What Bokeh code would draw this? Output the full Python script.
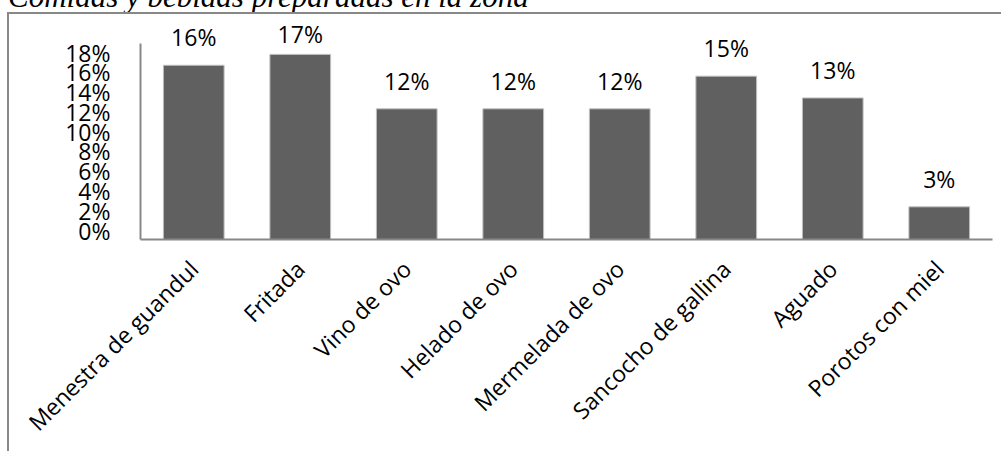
import math
from bokeh.plotting import figure
from bokeh.layouts import column
from bokeh.models import (ColumnDataSource, FactorRange, Range1d, LinearAxis, FixedTicker,
                          PrintfTickFormatter, LabelSet, Div)
from bokeh.core.properties import value
from bokeh.embed import file_html
from bokeh.resources import INLINE

# ---- data ----
categories = ["Menestra de guandul", "Fritada", "Vino de ovo", "Helado de ovo",
              "Mermelada de ovo", "Sancocho de gallina", "Aguado", "Porotos con miel"]
values = [16, 17, 12, 12, 12, 15, 13, 3]          # percent
y_ticks = [0, 2, 4, 6, 8, 10, 12, 14, 16, 18]
title_text = "Comidas y bebidas preparadas en la zona"

# ---- geometry (canvas pixels) ----
W, H = 994, 439
left, right, top, bottom = 131, 11, 0, 214
frame_w = W - left - right
frame_h = H - top - bottom
axis_px = 196.0                      # pixels covered by 0..18 %
px_per = axis_px / 18.0
ymax = frame_h / px_per

FONT = "Open Sans"
GRAY = "#888888"

p = figure(width=W, height=H, x_range=FactorRange(*categories, range_padding=0),
           y_range=Range1d(0, ymax), y_axis_location=None,
           output_backend="svg", toolbar_location=None,
           min_border_left=left, min_border_right=right,
           min_border_top=top, min_border_bottom=bottom,
           margin=(0, 0, 0, 7))
p.styles = {"border-top": f"2px solid {GRAY}", "border-left": f"2px solid {GRAY}"}
p.outline_line_color = None
p.grid.visible = False
p.background_fill_color = "white"
p.border_fill_color = "white"

# label axis: tick label centres are compressed relative to the bars
lbl_span = 18.0 * frame_h / 178.0
a = -9.0 / frame_h * lbl_span
b = a + lbl_span
p.extra_y_ranges = {"lbl": Range1d(a, b)}
yax = LinearAxis(y_range_name="lbl", ticker=FixedTicker(ticks=y_ticks),
                 formatter=PrintfTickFormatter(format="%d%%"),
                 bounds=(a, a + axis_px / frame_h * lbl_span))
yax.axis_line_color = GRAY
yax.axis_line_width = 2
yax.major_tick_line_color = None
yax.minor_tick_line_color = None
yax.major_label_standoff = 24
yax.major_label_text_font = FONT
yax.major_label_text_font_size = "23px"
yax.major_label_text_color = "black"
p.add_layout(yax, "left")

src = ColumnDataSource(dict(
    cat=categories, val=values,
    lbl=[f"{v}%" for v in values],
    ly=[min(v + 19.0 / px_per, (axis_px + 1) / px_per) for v in values],
))
p.vbar(x="cat", top="val", width=0.57, source=src,
       fill_color="#606060", line_color="#c0c0c0", line_width=1)

p.add_layout(LabelSet(x="cat", y="ly", text="lbl", source=src,
                      text_align="center", text_baseline="alphabetic",
                      text_font=value(FONT), text_font_size=value("23px"),
                      text_color="black"))

xax = p.xaxis[0]
xax.axis_line_color = GRAY
xax.axis_line_width = 2
xax.major_tick_line_color = None
xax.minor_tick_line_color = None
xax.major_label_orientation = math.pi / 4
xax.major_label_standoff = 19
xax.major_label_text_font = FONT
xax.major_label_text_font_size = "23px"
xax.major_label_text_color = "black"

# caption, partly above the top of the page as in the source image
title = Div(text=title_text, width=620, height=31, margin=(-19, 0, 0, 8),
            styles={"font-family": "Liberation Serif", "font-style": "italic",
                    "font-size": "31px", "line-height": "32px", "color": "black",
                    "white-space": "nowrap", "overflow": "visible"})

layout = column(title, p, spacing=0)
open("out.html", "w").write(file_html(layout, INLINE))
